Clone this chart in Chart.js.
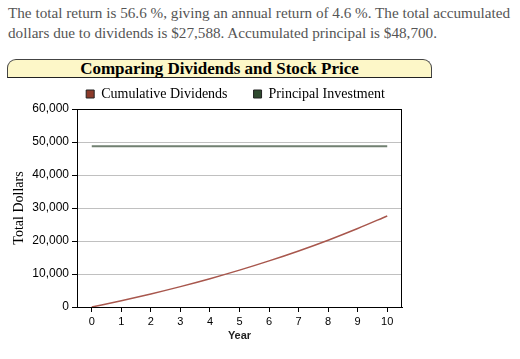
<!DOCTYPE html>
<html>
<head>
<meta charset="utf-8">
<script src="https://cdn.jsdelivr.net/npm/chart.js@4.4.0/dist/chart.umd.min.js"></script>
<style>
    body { margin: 0; background: #fff; width: 520px; height: 359px; overflow: hidden; position: relative; }
    .intro {
        position: absolute; left: 8px; top: 3px; width: 515px; white-space: nowrap;
        font-family: "Liberation Serif", serif; font-size: 15.2px; line-height: 20px; color: #555;
    }
    .title-box {
        position: absolute; left: 7px; top: 59px; width: 423px; height: 17px;
        background: #fdf7c8; border: 1px solid #444; border-bottom-color: #222;
        border-radius: 9px 9px 0 0;
        font-family: "Liberation Serif", serif; font-weight: bold; font-size: 17px;
        line-height: 17px; text-align: center; color: #000;
    }
    .chart-wrap { position: absolute; left: 0; top: 61px; width: 420px; height: 298px; }
</style>
</head>
<body>
<div class="intro">The total return is 56.6 %, giving an annual return of 4.6 %. The total accumulated<br>dollars due to dividends is $27,588. Accumulated principal is $48,700.</div>
<div class="title-box">Comparing Dividends and Stock Price</div>
<div class="chart-wrap"><canvas id="divChart"></canvas></div>
<script>
const years = ['0', '1', '2', '3', '4', '5', '6', '7', '8', '9', '10'];
const cumulativeDividends = [0, 1900, 3960, 6180, 8580, 11170, 13970, 16990, 20250, 23780, 27588];
const principalInvestment = [48700, 48700, 48700, 48700, 48700, 48700, 48700, 48700, 48700, 48700, 48700];
const yTicks = [0, 10000, 20000, 30000, 40000, 50000, 60000];

document.addEventListener('DOMContentLoaded', function () {
    initializeDividendChart();
});

// box around the plot area (top and right edges)
const framePlugin = {
    id: 'frame',
    afterDraw(chart) {
        const a = chart.chartArea;
        const c = chart.ctx;
        c.save();
        c.strokeStyle = '#000';
        c.lineWidth = 1;
        c.strokeRect(a.left + 0.5, a.top + 0.5, a.right - a.left - 1, a.bottom - a.top);
        c.restore();
    }
};

// legend items are spaced wide on one row, but the legend sits close to the plot
const legendPlacePlugin = {
    id: 'legendPlace',
    afterInit(chart) {
        const legend = chart.legend;
        const fit = legend.fit;
        legend.fit = function () {
            this.maxWidth = 1000;
            fit.call(this);
            this.height = 48;
        };
    },
    afterLayout(chart) {
        const legend = chart.legend;
        legend.left = chart.chartArea.left - 34;
        legend.right = chart.chartArea.right + 26;
        legend.width = legend.right - legend.left;
    }
};

function initializeDividendChart() {
    const ctx = document.getElementById('divChart').getContext('2d');

    new Chart(ctx, {
        type: 'line',
        data: {
            labels: years,
            datasets: [
                {
                    label: 'Cumulative Dividends',
                    data: cumulativeDividends,
                    borderColor: '#a8574d',
                    backgroundColor: '#8b3a2a',
                    borderWidth: 1.5,
                    pointRadius: 0,
                    cubicInterpolationMode: 'monotone'
                },
                {
                    label: 'Principal Investment',
                    data: principalInvestment,
                    borderColor: '#718071',
                    backgroundColor: '#2f4a2f',
                    borderWidth: 2,
                    pointRadius: 0
                }
            ]
        },
        options: {
            responsive: true,
            maintainAspectRatio: false,
            animation: false,
            layout: { padding: { left: 0, right: 18, top: 0, bottom: 16 } },
            plugins: {
                legend: {
                    display: true,
                    fullSize: false,
                    labels: {
                        boxWidth: 8,
                        boxHeight: 8,
                        padding: 26,
                        color: '#000',
                        font: { family: 'Liberation Serif', size: 14 },
                        generateLabels: function (chart) {
                            return chart.data.datasets.map(function (ds, i) {
                                return {
                                    text: ds.label,
                                    fillStyle: ds.backgroundColor,
                                    strokeStyle: '#222',
                                    lineWidth: 1,
                                    datasetIndex: i
                                };
                            });
                        }
                    }
                },
                tooltip: { enabled: false }
            },
            scales: {
                y: {
                    min: 0,
                    max: 60000,
                    afterBuildTicks: function (scale) {
                        scale.ticks = yTicks.map(function (v) { return { value: v }; });
                    },
                    afterFit: function (scale) { scale.width = 77; },
                    ticks: {
                        color: '#000',
                        padding: 3,
                        font: { family: 'Liberation Sans', size: 12 },
                        callback: function (v) { return v.toLocaleString('en-US'); }
                    },
                    grid: {
                        color: '#c0c0c0',
                        tickColor: '#000',
                        tickLength: 5
                    },
                    border: { color: '#000' },
                    title: {
                        display: true,
                        text: 'Total Dollars',
                        color: '#000',
                        font: { family: 'Liberation Serif', size: 14 },
                        padding: { top: 11, bottom: 0 }
                    }
                },
                x: {
                    offset: true,
                    afterFit: function (scale) { scale.height = 36; },
                    ticks: {
                        color: '#000',
                        padding: 3,
                        maxRotation: 0,
                        font: { family: 'Liberation Sans', size: 11 }
                    },
                    grid: {
                        offset: false,
                        drawOnChartArea: false,
                        color: '#000',
                        tickLength: 5
                    },
                    border: { color: '#000' },
                    title: {
                        display: true,
                        text: 'Year',
                        color: '#222',
                        font: { family: 'Liberation Sans', size: 11, weight: 'bold' },
                        padding: { top: 2, bottom: 0 }
                    }
                }
            }
        },
        plugins: [framePlugin, legendPlacePlugin]
    });
}
</script>
</body>
</html>
